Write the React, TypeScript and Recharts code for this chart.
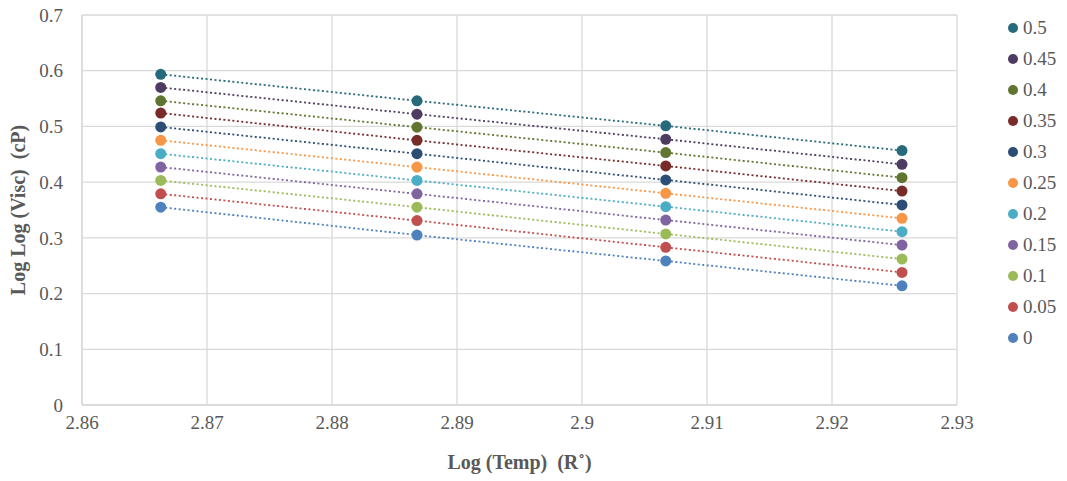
import { LineChart, Line, XAxis, YAxis, CartesianGrid } from "recharts";

// log10 of temperature in Rankine
const xValues = [2.8663, 2.8868, 2.9067, 2.9256];

const seriesNames = ["0", "0.05", "0.1", "0.15", "0.2", "0.25", "0.3", "0.35", "0.4", "0.45", "0.5"];

const s000 = [0.355, 0.305, 0.2585, 0.214];
const s005 = [0.379, 0.331, 0.283, 0.238];
const s010 = [0.403, 0.355, 0.307, 0.262];
const s015 = [0.427, 0.379, 0.332, 0.287];
const s020 = [0.451, 0.403, 0.356, 0.311];
const s025 = [0.475, 0.427, 0.38, 0.335];
const s030 = [0.499, 0.451, 0.404, 0.359];
const s035 = [0.524, 0.475, 0.429, 0.384];
const s040 = [0.546, 0.4986, 0.453, 0.408];
const s045 = [0.57, 0.522, 0.477, 0.432];
const s050 = [0.5935, 0.546, 0.501, 0.4566];

const seriesValues = [s000, s005, s010, s015, s020, s025, s030, s035, s040, s045, s050];

const colors = [
  "#4F81BD", "#C0504D", "#9BBB59", "#8064A2", "#4BACC6", "#F79646",
  "#2C4D75", "#772C2A", "#5F7530", "#4D3B62", "#276A7C",
];

const xTicks = [2.86, 2.87, 2.88, 2.89, 2.9, 2.91, 2.92, 2.93];
const yTicks = [0, 0.1, 0.2, 0.3, 0.4, 0.5, 0.6, 0.7];

const data = xValues.map((x, i) => {
  const row: Record<string, number> = { x };
  seriesNames.forEach((name, k) => {
    row[name] = seriesValues[k][i];
  });
  return row;
});

const FONT = "'Liberation Serif', 'Times New Roman', serif";
const TEXT = "#595959";

function LegendList() {
  const order = [...seriesNames].reverse();
  return (
    <div
      style={{
        position: "absolute",
        left: 1008,
        top: 12,
        fontFamily: FONT,
        fontSize: 19,
        color: TEXT,
      }}
    >
      {order.map((name) => {
        const c = colors[seriesNames.indexOf(name)];
        return (
          <div key={name} style={{ display: "flex", alignItems: "center", height: 31 }}>
            <span
              style={{
                width: 10,
                height: 10,
                borderRadius: 5,
                background: c,
                display: "inline-block",
                marginRight: 5,
              }}
            />
            <span>{name}</span>
          </div>
        );
      })}
    </div>
  );
}

export default function App() {
  return (
    <div style={{ position: "absolute", left: 0, top: 0, width: 1067, height: 481, background: "#fff" }}>
      <LineChart
        width={1067}
        height={481}
        data={data}
        margin={{ top: 15, right: 110, bottom: 16, left: 22 }}
      >
        <CartesianGrid stroke="#d9d9d9" strokeWidth={1.3} />
        <XAxis
          dataKey="x"
          type="number"
          domain={[2.86, 2.93]}
          ticks={xTicks}
          tickFormatter={(v) => String(Number(v.toFixed(2)))}
          height={60}
          tickLine={false}
          tickSize={0}
          tickMargin={11}
          stroke="#d9d9d9"
          strokeWidth={1.3}
          tick={{ fill: TEXT, fontSize: 19, fontFamily: FONT }}
          label={{
            value: "Log (Temp)\u00A0\u00A0(R˚)",
            position: "insideBottom",
            offset: -4,
            style: { fill: TEXT, fontSize: 20, fontWeight: "bold", fontFamily: FONT },
          }}
        />
        <YAxis
          type="number"
          domain={[0, 0.7]}
          ticks={yTicks}
          tickFormatter={(v) => String(Number(v.toFixed(1)))}
          width={60}
          tickLine={false}
          tickSize={0}
          tickMargin={19}
          stroke="#d9d9d9"
          strokeWidth={1.3}
          tick={{ fill: TEXT, fontSize: 19, fontFamily: FONT }}
          label={{
            value: "Log Log (Visc)\u00A0\u00A0(cP)",
            angle: -90,
            position: "insideLeft",
            offset: -4,
            style: { fill: TEXT, fontSize: 20, fontWeight: "bold", fontFamily: FONT, textAnchor: "middle" },
          }}
        />
        {seriesNames.map((name, k) => (
          <Line
            key={name}
            dataKey={name}
            stroke={colors[k]}
            strokeWidth={1.8}
            strokeDasharray="2 2.5"
            dot={{ r: 5.5, fill: colors[k], stroke: colors[k], strokeWidth: 0 }}
            activeDot={false}
            isAnimationActive={false}
          />
        ))}
      </LineChart>
      <LegendList />
    </div>
  );
}
